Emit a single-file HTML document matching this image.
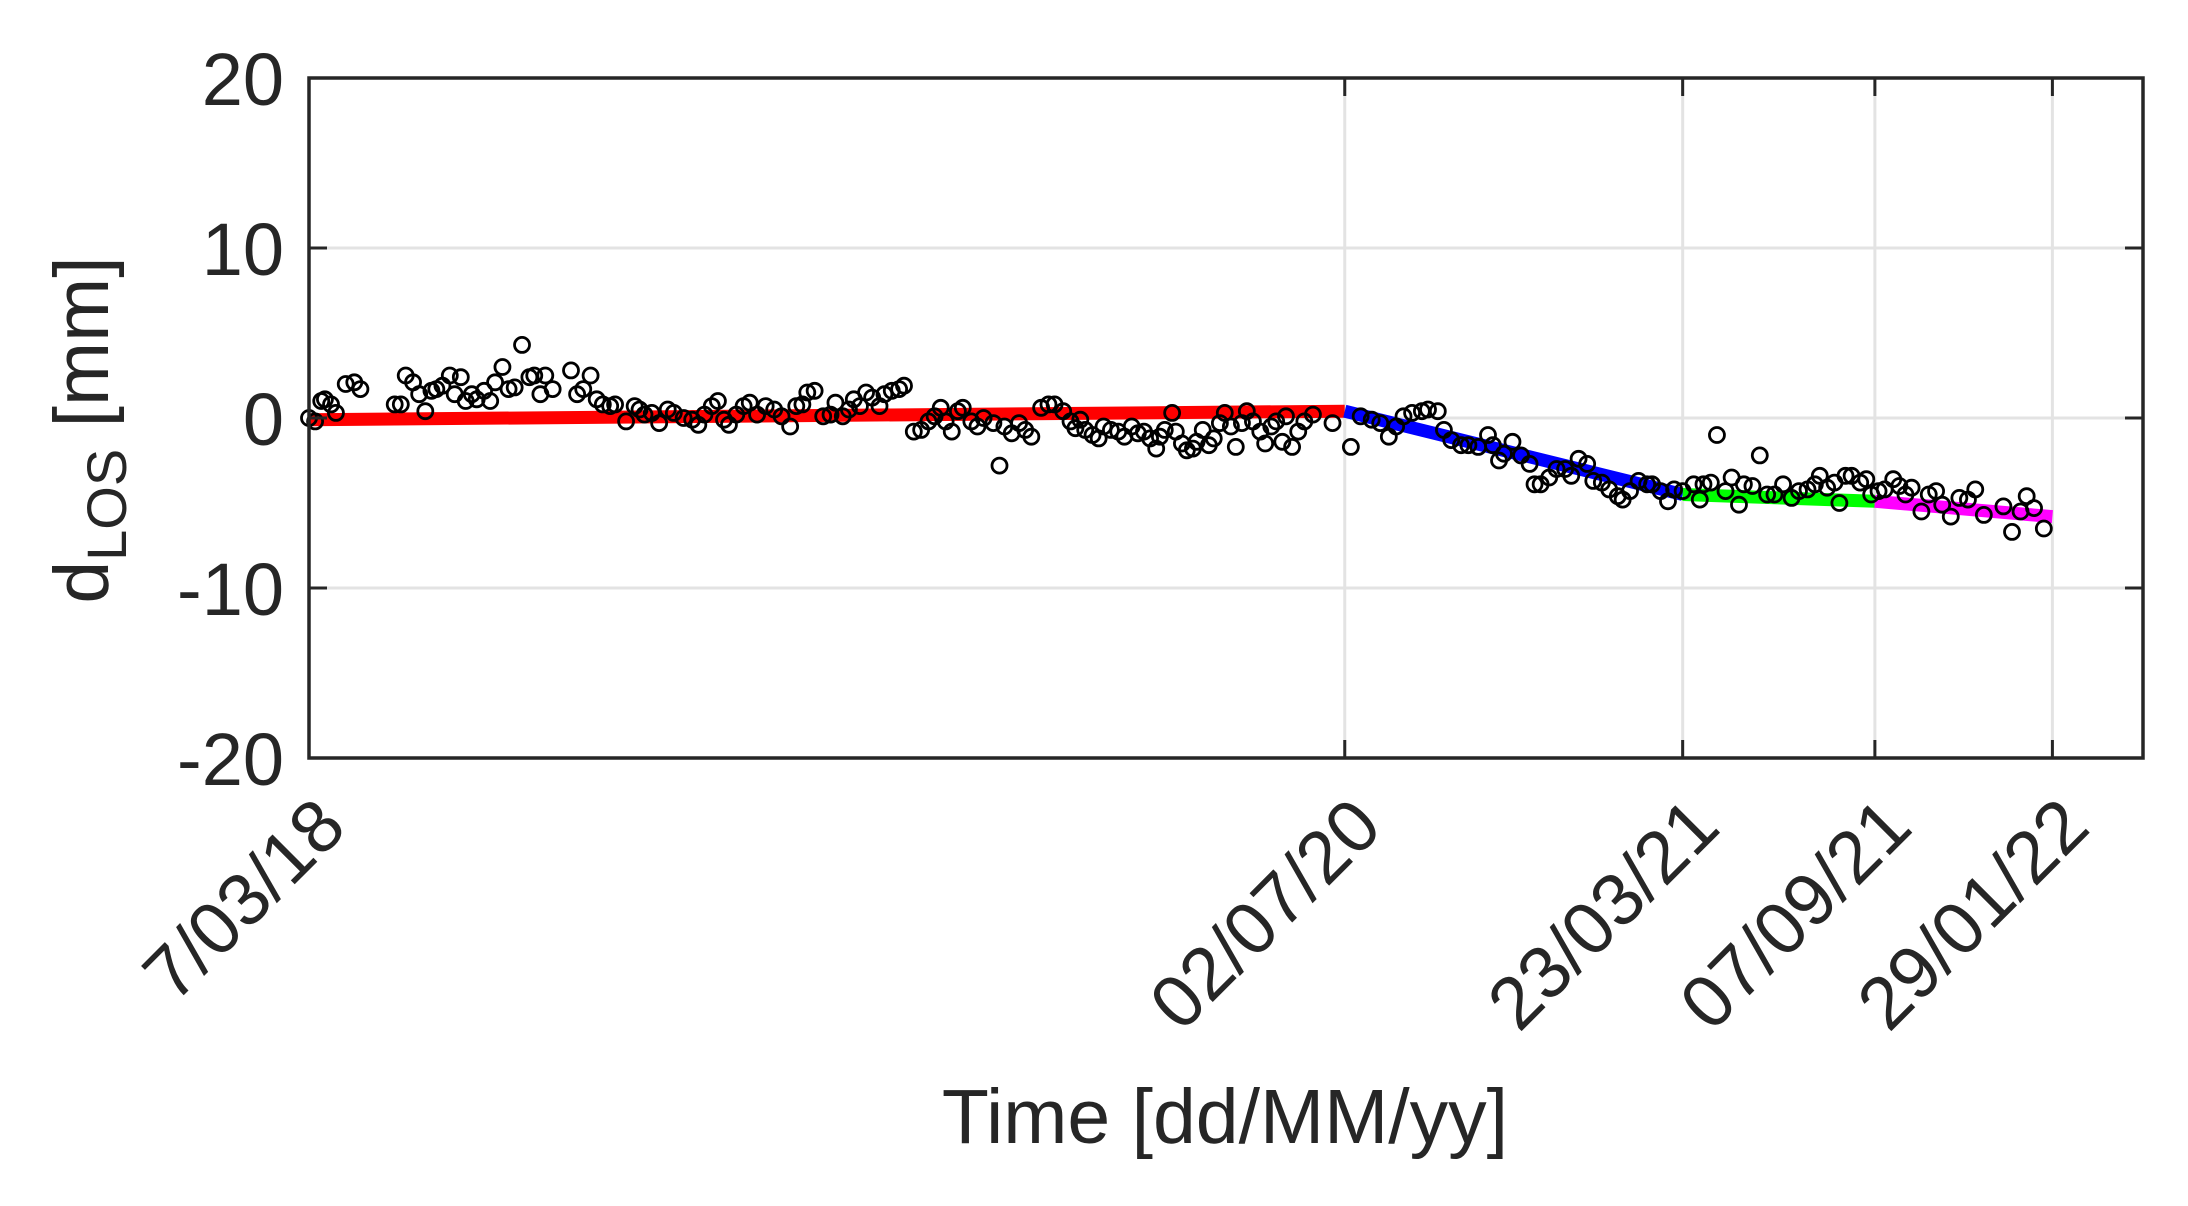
<!DOCTYPE html>
<html><head><meta charset="utf-8"><style>
html,body{margin:0;padding:0;background:#fff;width:2188px;height:1206px;overflow:hidden}
svg{display:block;font-family:"Liberation Sans",Arial,sans-serif}
</style></head><body>
<svg id="chart" width="2188" height="1206" viewBox="0 0 2188 1206" xmlns="http://www.w3.org/2000/svg">
<g id="grid"></g>
<g id="lines"></g>
<g id="pts"></g>
<g id="axes"></g>
<text x="1225" y="1143" font-size="77" text-anchor="middle" fill="#262626">Time [dd/MM/yy]</text>
<text transform="translate(108,430) rotate(-90)" font-size="77" text-anchor="middle" fill="#262626">d<tspan font-size="56" dy="18">LOS</tspan><tspan dy="-18"> [mm]</tspan></text>
</svg>
<script>
const xTickDays = [0, 846, 1122, 1279, 1424];
const xTickLabels = ["7/03/18", "02/07/20", "23/03/21", "07/09/21", "29/01/22"];
const yTicks = [-20, -10, 0, 10, 20];
const segDays = [0, 846, 1122, 1279, 1424];
const segVals = [-0.1, 0.4, -4.5, -4.9, -5.8];
const segColors = ["#ff0000", "#0000ff", "#00ff00", "#ff00ff"];
const ptDays = [0,5,10,13,18,22,30,37,42,70,75,79,85,90,95,100,104,109,115,119,124,128,133,137,143,148,152,158,163,168,174,180,184,189,193,199,214,219,224,230,235,240,246,250,259,266,270,274,280,286,293,298,306,313,318,323,329,334,339,343,349,355,360,366,373,380,386,393,398,403,407,413,420,426,430,436,441,445,450,455,460,466,470,476,482,486,494,500,506,511,516,520,525,530,534,541,546,551,559,564,568,574,580,585,590,598,604,609,616,622,626,630,634,640,645,649,655,661,666,672,677,682,687,692,695,699,705,708,713,717,722,725,730,735,739,744,748,753,757,762,766,771,777,781,786,790,795,798,803,808,813,820,836,851,859,868,875,882,888,894,901,909,914,922,927,933,941,947,955,963,967,972,976,983,990,997,1001,1006,1013,1019,1026,1031,1037,1044,1049,1056,1062,1069,1073,1079,1086,1093,1097,1104,1110,1115,1122,1131,1136,1139,1145,1150,1157,1162,1168,1172,1179,1185,1191,1197,1204,1211,1217,1224,1230,1234,1240,1246,1250,1255,1260,1267,1272,1276,1282,1287,1294,1299,1304,1309,1317,1323,1329,1334,1341,1348,1355,1361,1368,1384,1391,1398,1403,1409,1417];
const ptVals = [0.0,-0.2,1.0,1.1,0.8,0.3,2.0,2.1,1.7,0.8,0.8,2.5,2.1,1.4,0.4,1.6,1.7,1.9,2.5,1.4,2.4,1.0,1.4,1.1,1.6,1.0,2.1,3.0,1.7,1.8,4.3,2.4,2.5,1.4,2.5,1.7,2.8,1.4,1.7,2.5,1.1,0.8,0.7,0.8,-0.2,0.7,0.5,0.2,0.3,-0.3,0.5,0.3,0.0,-0.1,-0.4,0.2,0.7,1.0,-0.1,-0.4,0.2,0.7,0.9,0.2,0.7,0.5,0.1,-0.5,0.7,0.8,1.5,1.6,0.1,0.2,0.9,0.1,0.5,1.1,0.7,1.5,1.2,0.7,1.4,1.6,1.7,1.9,-0.8,-0.7,-0.2,0.1,0.6,-0.2,-0.8,0.4,0.6,-0.2,-0.5,0.0,-0.3,-2.8,-0.5,-0.9,-0.3,-0.7,-1.1,0.6,0.8,0.8,0.4,-0.2,-0.6,-0.1,-0.7,-1.0,-1.2,-0.5,-0.7,-0.8,-1.1,-0.5,-0.9,-0.8,-1.2,-1.8,-1.1,-0.7,0.3,-0.8,-1.5,-1.9,-1.8,-1.4,-0.7,-1.6,-1.2,-0.3,0.3,-0.5,-1.7,-0.3,0.4,-0.2,-0.8,-1.5,-0.5,-0.2,-1.4,0.1,-1.7,-0.8,-0.2,0.2,-0.3,-1.7,0.1,-0.1,-0.3,-1.1,-0.5,0.1,0.3,0.4,0.5,0.4,-0.7,-1.3,-1.6,-1.6,-1.7,-1.0,-1.6,-2.5,-2.1,-1.4,-2.2,-2.7,-3.9,-3.9,-3.5,-3.0,-3.0,-3.4,-2.4,-2.7,-3.7,-3.8,-4.2,-4.6,-4.8,-4.3,-3.7,-3.9,-3.9,-4.3,-4.9,-4.2,-4.3,-3.9,-4.8,-3.9,-3.8,-1.0,-4.3,-3.5,-5.1,-3.9,-4.0,-2.2,-4.5,-4.5,-3.9,-4.7,-4.3,-4.2,-3.9,-3.4,-4.1,-3.8,-5.0,-3.4,-3.4,-3.8,-3.6,-4.5,-4.3,-4.2,-3.6,-4.0,-4.5,-4.1,-5.5,-4.5,-4.3,-5.1,-5.8,-4.7,-4.8,-4.2,-5.7,-5.2,-6.7,-5.5,-4.6,-5.3,-6.5];

const L = 309, R = 2143, T = 78, B = 758;
const dayMin = 0, dayMax = 1498, yMin = -20, yMax = 20;
const sx = d => L + (d - dayMin) / (dayMax - dayMin) * (R - L);
const sy = v => B - (v - yMin) / (yMax - yMin) * (B - T);
const NS = "http://www.w3.org/2000/svg";
function mk(tag, attrs, parent) {
  const e = document.createElementNS(NS, tag);
  for (const k in attrs) e.setAttribute(k, attrs[k]);
  parent.appendChild(e);
  return e;
}
const grid = document.getElementById('grid'), axes = document.getElementById('axes');
const lines = document.getElementById('lines'), pts = document.getElementById('pts');
yTicks.forEach(v => {
  const y = sy(v);
  if (v > yMin && v < yMax) {
    const g = mk('line', {x1: L, x2: R, y1: y, y2: y, stroke: '#e3e3e3', 'stroke-width': 3}, grid);
    
    
  }
  const t1 = mk('line', {x1: L, x2: L + 18, y1: y, y2: y, stroke: '#262626', 'stroke-width': 3}, axes);
  
  
  const t2 = mk('line', {x1: R - 18, x2: R, y1: y, y2: y, stroke: '#262626', 'stroke-width': 3}, axes);
  
  
  const tx = mk('text', {x: 284, y: y + 27, 'font-size': 74, 'text-anchor': 'end', fill: '#262626'}, axes);
  tx.textContent = String(v);
  
  
});
xTickDays.forEach((d, i) => {
  const x = sx(d);
  if (i > 0) {
    const g = mk('line', {x1: x, x2: x, y1: T, y2: B, stroke: '#e3e3e3', 'stroke-width': 3}, grid);
    
    
  }
  const t = mk('line', {x1: x, x2: x, y1: B - 18, y2: B, stroke: '#262626', 'stroke-width': 3}, axes);
  
  
  const t2 = mk('line', {x1: x, x2: x, y1: T, y2: T + 18, stroke: '#262626', 'stroke-width': 3}, axes);
  
  
  const tx = mk('text', {x: 0, y: 0, 'font-size': 74, 'text-anchor': 'end', fill: '#262626',
    transform: `translate(${x + 40},${B + 72}) rotate(-45)`}, axes);
  tx.textContent = xTickLabels[i];
  
  
});
const box = mk('rect', {x: L, y: T, width: R - L, height: B - T, fill: 'none', stroke: '#262626', 'stroke-width': 3.5}, axes);


for (let i = 0; i < segColors.length; i++) {
  const ln = mk('line', {x1: sx(segDays[i]), y1: sy(segVals[i]), x2: sx(segDays[i + 1]), y2: sy(segVals[i + 1]),
    stroke: segColors[i], 'stroke-width': 13}, lines);
  
  
}
ptDays.forEach((d, i) => {
  const c = mk('circle', {cx: sx(d), cy: sy(ptVals[i]), r: 7.5, fill: 'none', stroke: '#000', 'stroke-width': 2.8}, pts);
  
  
});
</script>
</body></html>
